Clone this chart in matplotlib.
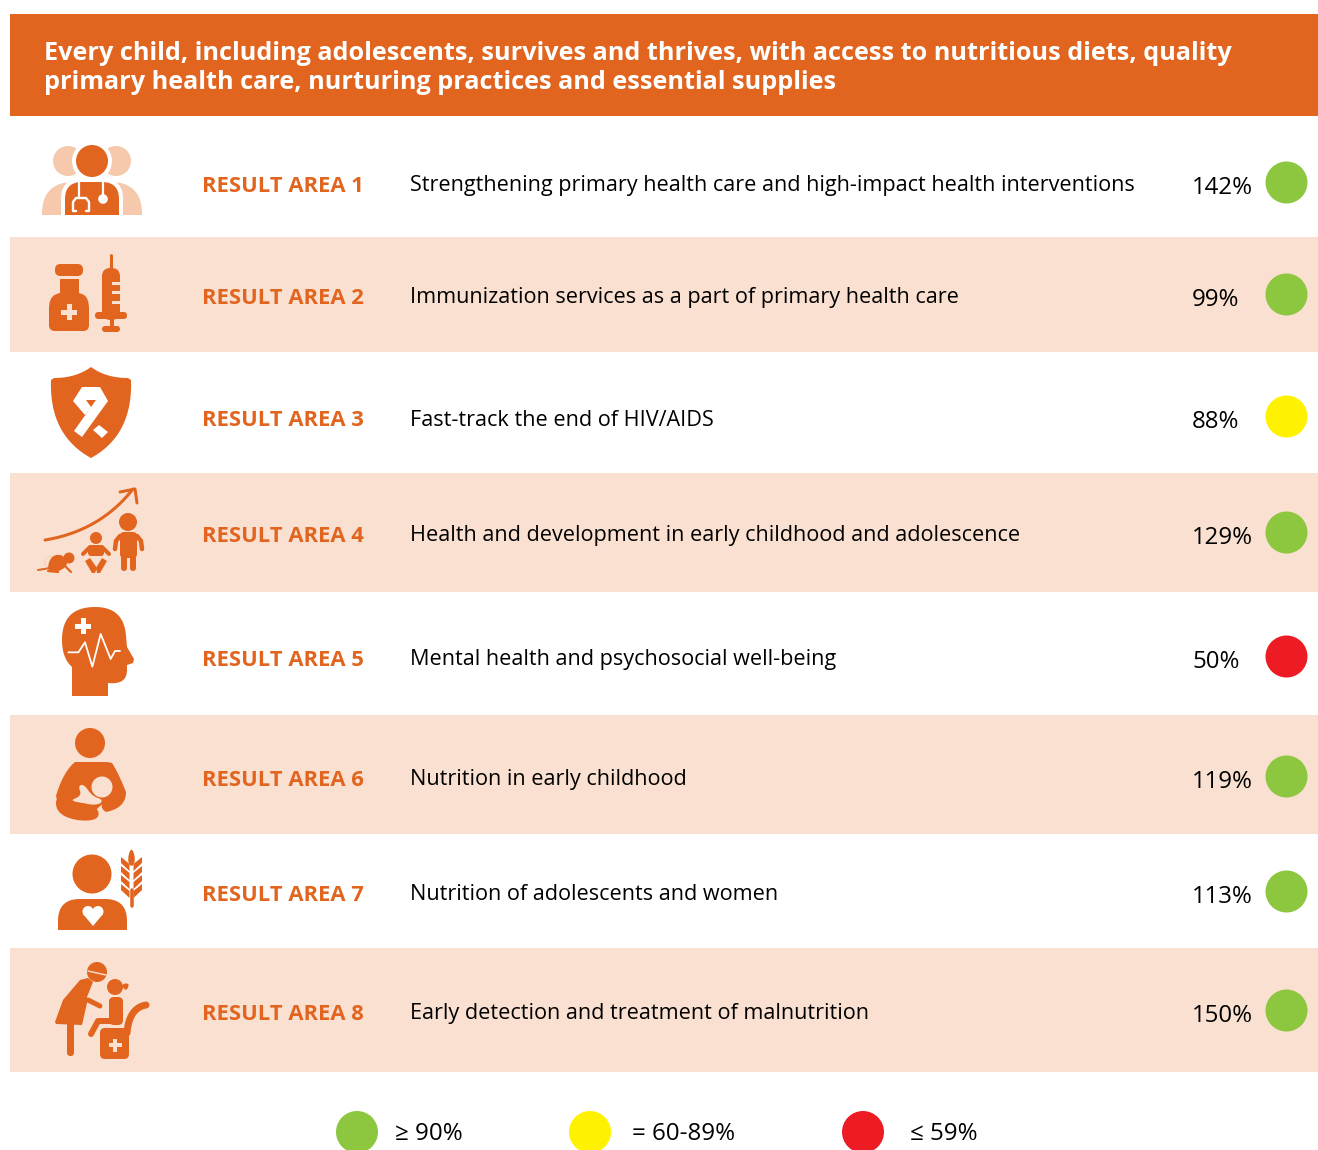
import matplotlib
matplotlib.use('Agg')
import matplotlib.pyplot as plt
from matplotlib.patches import Rectangle, Circle, Polygon, FancyBboxPatch, PathPatch
from matplotlib.path import Path
import numpy as np

plt.rcParams['font.family'] = ['Open Sans', 'DejaVu Sans']

# data
header = ["Every child, including adolescents, survives and thrives, with access to nutritious diets, quality",
          "primary health care, nurturing practices and essential supplies"]
areas = ["RESULT AREA 1", "RESULT AREA 2", "RESULT AREA 3", "RESULT AREA 4",
         "RESULT AREA 5", "RESULT AREA 6", "RESULT AREA 7", "RESULT AREA 8"]
descriptions = ["Strengthening primary health care and high-impact health interventions",
                "Immunization services as a part of primary health care",
                "Fast-track the end of HIV/AIDS",
                "Health and development in early childhood and adolescence",
                "Mental health and psychosocial well-being",
                "Nutrition in early childhood",
                "Nutrition of adolescents and women",
                "Early detection and treatment of malnutrition"]
percents = [142, 99, 88, 129, 50, 119, 113, 150]
legend_labels = ["≥ 90%", "= 60-89%", "≤ 59%"]

# layout
ORANGE = '#E1641F'
BAND = '#F9E0D0'
PALE = '#F6C9AC'
GREEN = '#8DC63F'
YELLOW = '#FFF200'
RED = '#ED1C24'
row_y = [184, 296, 418, 534, 658, 778, 893, 1012]
bands = [(237, 352), (473, 592), (715, 834), (948, 1072)]
legend_x = [357, 590, 863]
legend_text_x = [395, 632, 910]


def status_color(p):
    if p >= 90:
        return GREEN
    if p >= 60:
        return YELLOW
    return RED


fig = plt.figure(figsize=(13.18, 11.5), dpi=100)
ax = fig.add_axes([0, 0, 1, 1])
ax.set_xlim(0, 1318)
ax.set_ylim(1150, 0)
ax.axis('off')


def circ(x, y, r, c=ORANGE, z=3):
    ax.add_patch(Circle((x, y), r, fc=c, ec='none', zorder=z))


def poly(pts, c=ORANGE, z=3):
    ax.add_patch(Polygon(pts, closed=True, fc=c, ec='none', zorder=z))


def blob(pts, c=ORANGE, z=3):
    # smooth closed shape through the midpoints of the control points
    pts = np.array(pts, float)
    mids = (pts + np.roll(pts, -1, axis=0)) / 2
    verts = [mids[-1]]
    codes = [Path.MOVETO]
    for i in range(len(pts)):
        verts += [pts[i], mids[i]]
        codes += [Path.CURVE3, Path.CURVE3]
    ax.add_patch(PathPatch(Path(verts, codes), fc=c, ec='none', zorder=z))


def rect(x0, y0, x1, y1, c=ORANGE, z=3):
    ax.add_patch(Rectangle((x0, y0), x1 - x0, y1 - y0, fc=c, ec='none', zorder=z))


def rrect(x0, y0, x1, y1, r, c=ORANGE, z=3):
    ax.add_patch(FancyBboxPatch((x0 + r, y0 + r), x1 - x0 - 2 * r, y1 - y0 - 2 * r,
                                boxstyle=f'round,pad={r},rounding_size={r}',
                                fc=c, ec='none', zorder=z))


def line(pts, w, c=ORANGE, z=3, cap='round'):
    xs, ys = zip(*pts)
    ax.plot(xs, ys, color=c, lw=w * 0.72, solid_capstyle=cap, solid_joinstyle='round', zorder=z)


def plus(x, y, arm, t, c):
    rect(x - arm, y - t / 2, x + arm, y + t / 2, c, 5)
    rect(x - t / 2, y - arm, x + t / 2, y + arm, c, 5)


def curve(p0, p1, p2, n=30):
    t = np.linspace(0, 1, n)[:, None]
    return (1 - t) ** 2 * np.array(p0) + 2 * t * (1 - t) * np.array(p1) + t ** 2 * np.array(p2)


def dome(x0, x1, ytop, ybot, c, z):
    # shoulders: flat bottom, rounded top corners
    mid = 0.32 * (x1 - x0)
    pts = np.vstack([[(x0, ybot)], curve((x0, ytop + mid), (x0, ytop), (x0 + mid, ytop)),
                     curve((x1 - mid, ytop), (x1, ytop), (x1, ytop + mid)), [(x1, ybot)]])
    poly(pts, c, z)


def icon_doctor():
    circ(68, 161, 15, PALE)
    circ(116, 161, 15, PALE)
    dome(42, 142, 182, 215, PALE, 3)
    circ(92, 161, 20, 'white', 4)
    circ(92, 161, 16, ORANGE, 5)
    dome(61, 123, 179, 216, 'white', 4)
    dome(65, 119, 182, 215, ORANGE, 5)
    line([(79, 181), (79, 197)], 2.2, 'white', 6)
    line([(103, 181), (103, 197)], 2.2, 'white', 6)
    circ(103, 199, 4.8, 'white', 6)
    line([(76, 211), (73, 211), (73, 202), (76, 198), (86, 198), (89, 202), (89, 211), (86, 211)], 2.4, 'white', 6)


def icon_vaccine():
    rrect(55, 264, 83, 276, 5.5)
    rect(60, 279, 79, 298)
    blob([(60, 292), (49, 298), (49, 320), (89, 320), (89, 298), (79, 292)])
    rrect(49, 305, 89, 331, 6)
    plus(69, 312, 8, 5, BAND)
    line([(110.5, 255), (110.5, 272)], 3)
    rrect(102, 268, 120, 320, 8.5)
    for y in [283, 292, 302]:
        rect(112, y - 1, 121, y + 1.5, BAND, 4)
    rrect(95, 312, 127, 319, 3.5)
    rect(110, 318, 114, 328)
    rrect(102, 326, 120, 332, 3)


def icon_shield():
    top = curve((91, 367), (76, 378), (54, 378))
    left = curve((51, 380), (49, 435), (91, 458))
    right = curve((91, 458), (133, 435), (131, 380))
    top2 = curve((128, 378), (106, 378), (91, 367))
    poly(np.vstack([top, left, right, top2]))
    w = 'white'
    poly([(82, 387), (100, 387), (108, 401), (82, 437), (74, 431), (96, 400), (86, 400), (91, 407), (85, 415), (73, 401)], w, 4)
    poly([(99, 425), (108, 432), (102, 438), (93, 430)], w, 4)


def icon_growth():
    line(curve((45, 540), (100, 531), (133, 489)), 3)
    line([(120, 492), (135, 489), (137, 503)], 3)
    # tall child
    circ(128, 522, 9)
    rrect(120, 532, 137, 558, 4)
    line([(120, 536), (116, 541), (115, 549)], 4.5)
    line([(137, 536), (141, 541), (142, 549)], 4.5)
    rrect(121, 548, 127, 571, 3)
    rrect(130, 548, 136, 571, 3)
    # baby
    circ(96, 538, 6)
    rrect(88, 545, 104, 556, 3)
    line([(90, 547), (83, 554)], 4)
    line([(102, 547), (109, 554)], 4)
    poly([(85, 561), (90, 558), (97, 568), (95, 573), (92, 573)])
    poly([(107, 561), (102, 558), (96, 568), (97, 573), (100, 573)])
    # crawling baby
    circ(69, 558, 5.5)
    blob([(47, 569), (51, 556), (62, 554), (69, 563), (61, 571), (52, 572)])
    line([(38, 570), (50, 568)], 2)
    line([(63, 564), (71, 572)], 2.2)
    line([(48, 571), (58, 572)], 2.2)
    ax.add_patch(Circle((50, 562), 5.5, fc='none', ec=PALE, lw=0.5, zorder=2))


def icon_head():
    crown = np.vstack([curve((126, 636), (124, 607), (95, 607)), curve((95, 607), (62, 607), (62, 640)),
                       curve((62, 640), (62, 658), (72, 667))])
    jaw = np.vstack([[(72, 696), (108, 696), (108, 683)], curve((108, 683), (127, 685), (127, 670)),
                     [(127, 665), (133, 663), (134, 659), (127, 647)]])
    poly(np.vstack([jaw, crown]))
    plus(83, 626, 8, 5, 'white')
    pts = [(205, 547), (235, 547), (255, 517), (277, 590), (302, 492), (332, 567), (345, 543), (360, 543)]
    line([(x / 3, 470 + y / 3) for x, y in pts], 1.8, 'white', 6)


def icon_nursing():
    circ(90, 743, 15)
    poly(np.vstack([[(75, 762), (107, 762)], curve((112, 763), (118, 772), (126, 792)),
                    curve((126, 792), (126, 808), (106, 812)), curve((106, 812), (97, 806), (107, 800)),
                    [(90, 815), (60, 810), (56, 796)], curve((56, 796), (63, 772), (75, 762))]))
    circ(102, 787, 10.5, BAND, 4)
    blob([(78, 786), (84, 784), (92, 796), (104, 800), (97, 806), (68, 801), (82, 796)], BAND, 4)
    blob([(56, 795), (68, 801), (97, 805), (100, 820), (75, 821), (56, 812)], ORANGE, 5)


def icon_woman():
    circ(92, 874, 19.5)
    dome(58, 127, 899, 930, ORANGE, 3)
    # heart
    circ(88, 911.5, 5.5, 'white', 4)
    circ(98, 911.5, 5.5, 'white', 4)
    poly([(83, 914), (93, 926), (103, 914), (93, 910)], 'white', 4)
    line([(131.5, 890), (131.5, 906)], 3.5)
    blob([(131.5, 846), (127, 860), (131.5, 868), (136, 860)])
    for y in [866, 875, 884, 893]:
        poly([(121, y - 9), (121, y - 3), (129.5, y + 5), (129.5, y - 2)])
        poly([(142, y - 9), (142, y - 3), (133.5, y + 5), (133.5, y - 2)])


def icon_care():
    circ(97, 972, 10)
    line([(88, 971), (106, 975)], 1.4, BAND, 5)
    poly([(55, 1022), (63, 1000), (80, 980), (88, 978), (93, 982), (87, 997), (87, 1003), (82, 1025), (56, 1024)])
    rrect(67, 1020, 74, 1056, 3.5)
    line([(88, 1000), (100, 1006)], 5)
    circ(115, 987, 8)
    blob([(121, 984), (130, 983), (126, 992)])
    rrect(109, 997, 123, 1025, 5)
    line([(118, 1021), (98, 1021), (91, 1034)], 6)
    rrect(100, 1028, 129, 1059, 5)
    line(curve((127, 1033), (129, 1008), (146, 1005)), 7)
    plus(115, 1045, 6.5, 4, BAND)


# header and bands
rect(10, 14, 1318, 116, ORANGE, 1)
ax.text(44, 60, header[0], color='white', fontsize=18.2, fontweight='bold', va='baseline')
ax.text(44, 89, header[1], color='white', fontsize=18.2, fontweight='bold', va='baseline')
for y0, y1 in bands:
    rect(10, y0, 1318, y1, BAND, 1)

for fn in [icon_doctor, icon_vaccine, icon_shield, icon_growth, icon_head, icon_nursing, icon_woman, icon_care]:
    fn()

# rows
for area, desc, pct, y in zip(areas, descriptions, percents, row_y):
    ax.text(202, y + 8, area, color=ORANGE, fontsize=15.8, fontweight='bold', va='baseline')
    ax.text(410, y + 7.5, desc, color='black', fontsize=15.6, va='baseline')
    ax.text(1192, y + 10, f'{pct}%', color='black', fontsize=17.3, va='baseline')
    circ(1286.5, y - 1.5, 21, status_color(pct))

# legend
for x, tx, label, c in zip(legend_x, legend_text_x, legend_labels, [GREEN, YELLOW, RED]):
    circ(x, 1132, 21, c)
    ax.text(tx, 1140, label, color='black', fontsize=17.4, va='baseline')

fig.savefig('out.png', dpi=100)
